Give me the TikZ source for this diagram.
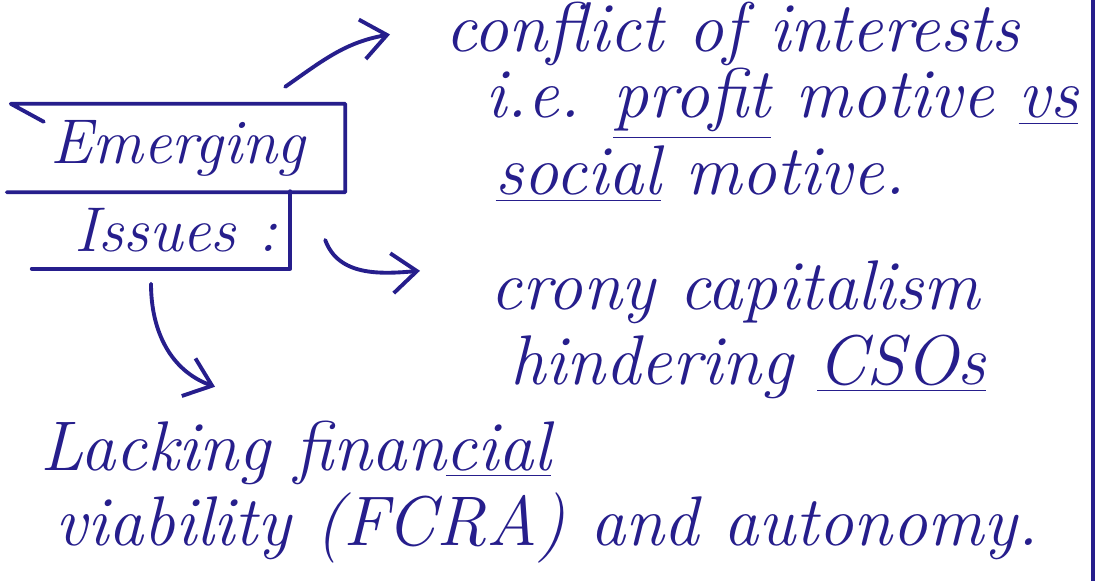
\documentclass[tikz,border=0pt]{standalone}
\usetikzlibrary{positioning,arrows.meta}
\definecolor{ink}{RGB}{38,30,140}
\tikzset{
  note/.style={anchor=base west, inner sep=0pt, text=ink, font=\fontsize{20}{24}\selectfont\itshape},
  head/.style={text=ink, font=\fontsize{18}{22}\selectfont\itshape},
  pen/.style={draw=ink, line width=1.1pt, line cap=round, line join=round},
  link/.style={pen, -{Straight Barb[length=2.5mm,width=4mm]}}
}
\begin{document}
\begin{tikzpicture}
\useasboundingbox[fill=white] (0,0) rectangle (11.04,-5.81);
% heading, in two boxes open on the left
\node[head, minimum width=3.33cm, minimum height=0.87cm] (emerging) at (1.78,-1.48) {Emerging};
\node[head, minimum width=2.57cm, minimum height=0.76cm] (issues) at (1.61,-2.30) {\hspace{0.3cm}Issues :};
\draw[pen] ([xshift=0.33cm,yshift=-0.18cm]emerging.north west) -- (emerging.north west) -- (emerging.north east) -- (emerging.south east) -- ([xshift=-0.04cm]emerging.south west);
\draw[pen] (issues.north east) -- (issues.south east) -- (issues.south west);
% the three points
\node[note] (conflict) at (4.45,-0.52) {conflict of interests};
\node[note] (ie) at (4.85,-1.18) {i.e. \underline{profit} motive \underline{vs}};
\node[note] (social) at (4.95,-1.95) {\underline{social} motive.};
\node[note] (crony) at (4.9,-3.10) {crony capitalism};
\node[note] (hinder) at (5.1,-3.84) {hindering \underline{CSOs}};
\node[note] (lacking) at (0.4,-4.7) {Lacking finan\underline{cial}};
\node[note] (viab) at (0.55,-5.45) {viability (FCRA) and autonomy.};
\draw[link] ([xshift=-0.6cm,yshift=0.17cm]emerging.north east) to[out=35,in=190] ([xshift=-0.55cm]conflict.west);
\draw[link] ([xshift=0.35cm,yshift=-0.1cm]issues.east) to[out=-70,in=185] ([xshift=-0.7cm,yshift=0.22cm]crony.west);
\draw[link] ([xshift=-0.1cm,yshift=-0.15cm]issues.south) to[out=-90,in=160] ([xshift=1.75cm,yshift=0.33cm]lacking.north west);
% margin rule of the page
\draw[pen] (10.93,0) -- (10.93,-5.81);
\end{tikzpicture}
\end{document}
